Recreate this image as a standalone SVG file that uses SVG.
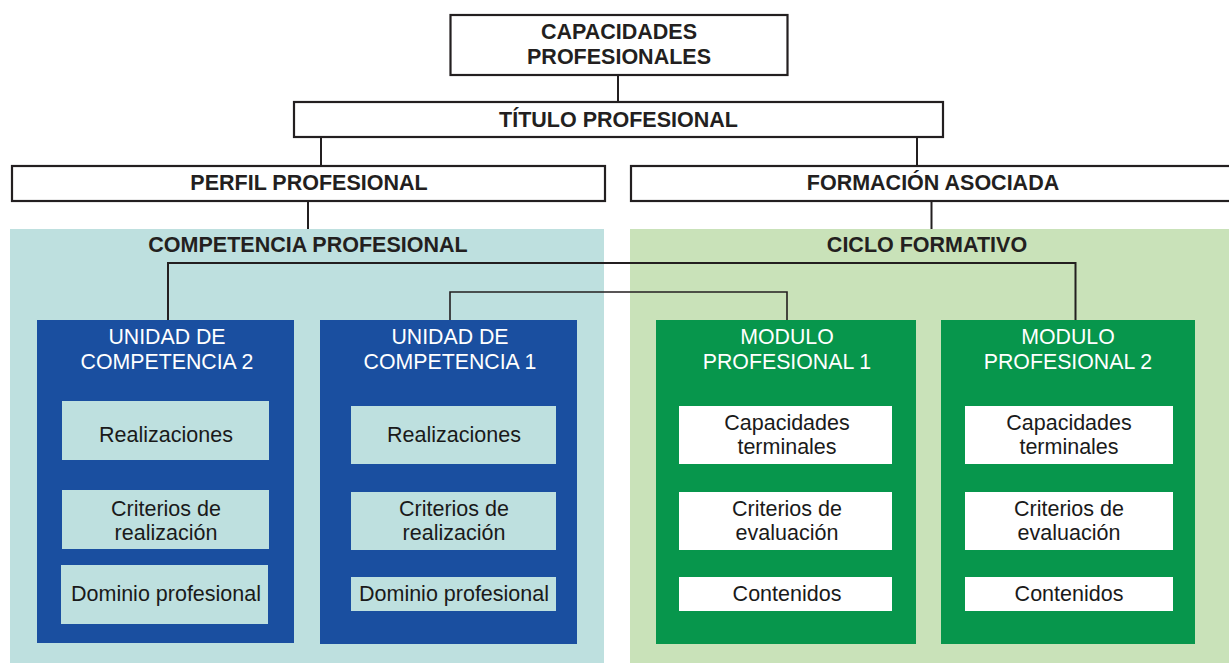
<svg xmlns="http://www.w3.org/2000/svg" width="1229" height="663" viewBox="0 0 1229 663">
<style>
.hdr{fill:#fff;stroke:#231f20;stroke-width:2.2}
.bt{font-family:"Liberation Sans",Arial,sans-serif;font-weight:bold;font-size:21.5px;fill:#231f20;text-anchor:middle}
.wt{font-family:"Liberation Sans",Arial,sans-serif;font-size:21.3px;fill:#fff;text-anchor:middle}
.it{font-family:"Liberation Sans",Arial,sans-serif;font-size:21.5px;fill:#1a1a1a;text-anchor:middle}
.blue{fill:#1a4fa0}
.green{fill:#07964c}
.lt{fill:#bee0df}
.wh{fill:#fff}
.con{fill:none;stroke:#231f20;stroke-width:2}
</style>
<rect width="1229" height="663" fill="#fff"/>
<g id="panel-competencia"><rect x="10" y="229" width="594" height="434" fill="#bee0df"/><text class="bt" x="308" y="252">COMPETENCIA PROFESIONAL</text></g>
<g id="panel-ciclo"><rect x="630" y="229" width="599" height="434" fill="#c9e2b9"/><text class="bt" x="927" y="252">CICLO FORMATIVO</text></g>
<g id="connectors">
<path class="con" d="M618 75V102"/>
<path class="con" d="M321 137V166"/>
<path class="con" d="M917 137V166"/>
<path class="con" d="M308 201V229"/>
<path class="con" d="M931.5 201V229"/>
<path class="con" d="M168 320V263H1075.5V320"/>
<path class="con" style="stroke-width:1.6" d="M450 320V292H787V320"/>
</g>
<g id="capacidades"><rect class="hdr" x="450.5" y="15" width="337" height="60"/><text class="bt" x="619" y="39">CAPACIDADES</text><text class="bt" x="619" y="64">PROFESIONALES</text></g>
<g id="titulo"><rect class="hdr" x="294" y="102" width="649" height="35"/><text class="bt" x="618.5" y="127">TÍTULO PROFESIONAL</text></g>
<g id="perfil"><rect class="hdr" x="12" y="166" width="593" height="35"/><text class="bt" x="309" y="190">PERFIL PROFESIONAL</text></g>
<g id="formacion"><rect class="hdr" x="631" y="166" width="610" height="35"/><text class="bt" x="933" y="190">FORMACIÓN ASOCIADA</text></g>
<g id="uc2">
<rect class="blue" x="37" y="320" width="257" height="323"/>
<text class="wt" x="167" y="344">UNIDAD DE</text><text class="wt" x="167" y="369">COMPETENCIA 2</text>
<rect class="lt" x="62" y="401" width="207" height="59"/><text class="it" x="166" y="442">Realizaciones</text>
<rect class="lt" x="62" y="490" width="207" height="59"/><text class="it" x="166" y="516">Criterios de</text><text class="it" x="166" y="540">realización</text>
<rect class="lt" x="61" y="565" width="207" height="59"/><text class="it" x="166" y="601">Dominio profesional</text>
</g>
<g id="uc1">
<rect class="blue" x="320" y="320" width="257" height="324"/>
<text class="wt" x="450" y="344">UNIDAD DE</text><text class="wt" x="450" y="369">COMPETENCIA 1</text>
<rect class="lt" x="351" y="406" width="205" height="58"/><text class="it" x="454" y="442">Realizaciones</text>
<rect class="lt" x="351" y="492" width="205" height="58"/><text class="it" x="454" y="516">Criterios de</text><text class="it" x="454" y="540">realización</text>
<rect class="lt" x="351" y="577" width="205" height="34"/><text class="it" x="454" y="601">Dominio profesional</text>
</g>
<g id="mp1">
<rect class="green" x="656" y="320" width="260" height="324"/>
<text class="wt" x="787" y="344">MODULO</text><text class="wt" x="787" y="369">PROFESIONAL 1</text>
<rect class="wh" x="679" y="406" width="213" height="58"/><text class="it" x="787" y="430">Capacidades</text><text class="it" x="787" y="454">terminales</text>
<rect class="wh" x="679" y="492" width="213" height="58"/><text class="it" x="787" y="516">Criterios de</text><text class="it" x="787" y="540">evaluación</text>
<rect class="wh" x="679" y="577" width="213" height="34"/><text class="it" x="787" y="601">Contenidos</text>
</g>
<g id="mp2">
<rect class="green" x="941" y="320" width="254" height="324"/>
<text class="wt" x="1068" y="344">MODULO</text><text class="wt" x="1068" y="369">PROFESIONAL 2</text>
<rect class="wh" x="965" y="406" width="208" height="58"/><text class="it" x="1069" y="430">Capacidades</text><text class="it" x="1069" y="454">terminales</text>
<rect class="wh" x="965" y="492" width="208" height="58"/><text class="it" x="1069" y="516">Criterios de</text><text class="it" x="1069" y="540">evaluación</text>
<rect class="wh" x="965" y="577" width="208" height="34"/><text class="it" x="1069" y="601">Contenidos</text>
</g>
</svg>
